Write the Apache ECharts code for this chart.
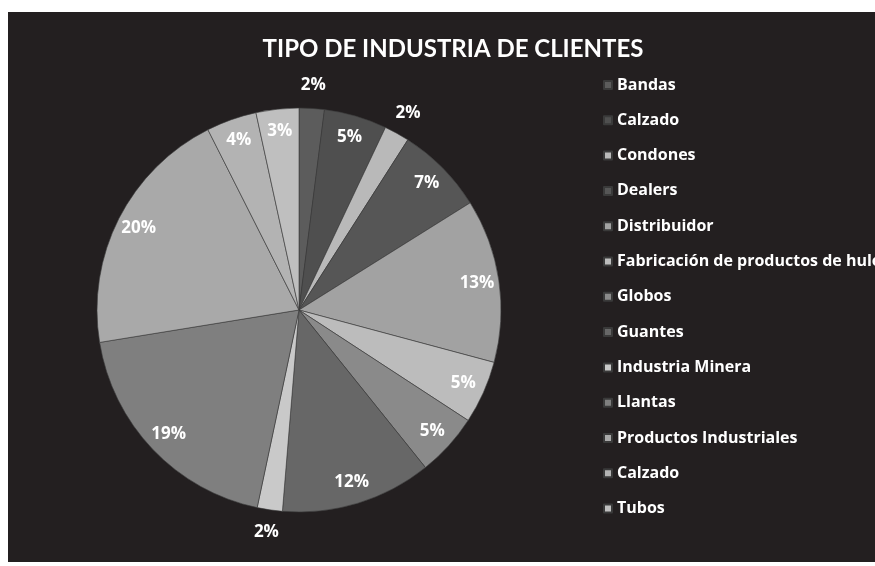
<!DOCTYPE html>
<html>
<head>
<meta charset="utf-8" />
<title>Tipo de industria de clientes</title>
<script src="https://cdn.jsdelivr.net/npm/echarts@6/dist/echarts.min.js"></script>
<style>
  html, body { margin: 0; padding: 0; background: #fff; }
  #main { width: 875px; height: 566px; }
</style>
</head>
<body>
<div id="main"></div>
<script>
// datos (porcentaje por tipo de industria)
var categorias = ['Bandas', 'Calzado', 'Condones', 'Dealers', 'Distribuidor',
  'Fabricación de productos de hule', 'Globos', 'Guantes', 'Industria Minera',
  'Llantas', 'Productos Industriales', 'Calzado\u200B', 'Tubos'];
var valores = [2, 5, 2, 7, 13, 5, 5, 12, 2, 19, 20, 4, 3.4];

// estilo: tonos de gris y qué etiquetas van fuera del pastel
var grises = ['#5c5c5c', '#4f4f4f', '#b9b9b9', '#565656', '#a2a2a2', '#bcbcbc',
  '#8a8a8a', '#676767', '#c9c9c9', '#7f7f7f', '#a9a9a9', '#b3b3b3', '#bfbfbf'];
var etiquetaFuera = [true, false, true, false, false, false, false, false, true, false, false, false, false];

var chart = echarts.init(document.getElementById('main'));

var fuente = 'Lato, "Open Sans", sans-serif';
var cx = 299, cy = 310, r = 202;

function datosPie() {
  return categorias.map(function (c, i) {
    return { name: c, value: valores[i], itemStyle: { color: grises[i] } };
  });
}

function datosEtiquetas(fuera) {
  return categorias.map(function (c, i) {
    return { name: c, value: valores[i], label: { show: etiquetaFuera[i] === fuera } };
  });
}

var etiqueta = {
  position: 'inside',
  color: '#fff',
  fontFamily: '"Open Sans", sans-serif',
  fontWeight: 'bold',
  fontSize: 17,
  formatter: function (p) { return Math.round(p.value) + '%'; }
};

var option = {
  backgroundColor: '#fff',
  animation: false,
  graphic: [{
    type: 'rect',
    z: -10,
    shape: { x: 8, y: 12, width: 867, height: 550 },
    style: { fill: '#231f20' }
  }],
  title: {
    text: 'TIPO DE INDUSTRIA DE CLIENTES',
    left: 448,
    textAlign: 'center',
    top: 32,
    textStyle: { color: '#fff', fontFamily: fuente, fontWeight: 'bold', fontSize: 24 }
  },
  legend: {
    orient: 'vertical',
    left: 598,
    top: 71,
    icon: 'rect',
    itemWidth: 8,
    itemHeight: 8,
    itemGap: 17.3,
    selectedMode: false,
    textStyle: { color: '#fff', fontFamily: '"Open Sans", sans-serif', fontWeight: 'bold', fontSize: 16, lineHeight: 18 },
    data: categorias
  },
  series: [
    {
      type: 'pie',
      center: [cx, cy],
      radius: [0, r],
      startAngle: 90,
      clockwise: true,
      silent: true,
      label: { show: false },
      labelLine: { show: false },
      itemStyle: { borderColor: '#3a3a3a', borderWidth: 0.6 },
      data: datosPie()
    },
    {
      // anillo invisible solo para colocar las etiquetas interiores
      type: 'pie',
      center: [cx, cy],
      radius: [152, r],
      startAngle: 90,
      silent: true,
      legendHoverLink: false,
      itemStyle: { color: 'rgba(0,0,0,0)' },
      label: etiqueta,
      labelLine: { show: false },
      data: datosEtiquetas(false)
    },
    {
      // anillo invisible exterior para las etiquetas de 2%
      type: 'pie',
      center: [cx, cy],
      radius: [r, 242],
      startAngle: 90,
      silent: true,
      legendHoverLink: false,
      itemStyle: { color: 'rgba(0,0,0,0)' },
      label: etiqueta,
      labelLine: { show: false },
      data: datosEtiquetas(true)
    }
  ]
};

chart.setOption(option);
</script>
</body>
</html>
